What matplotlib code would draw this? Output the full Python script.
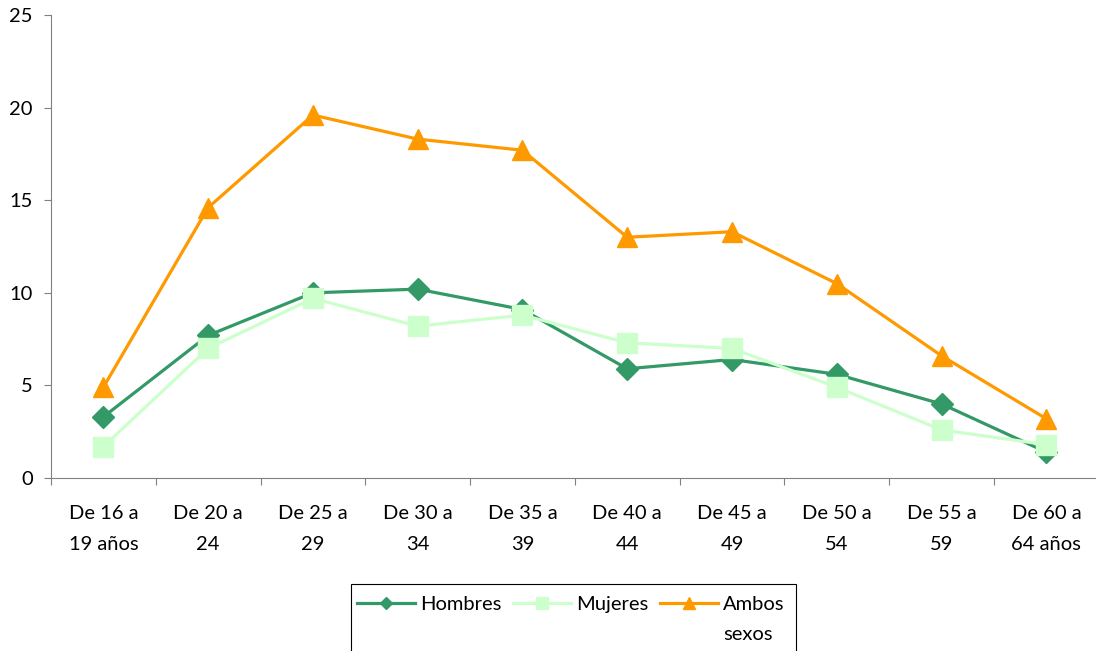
import matplotlib.pyplot as plt
from matplotlib.patches import Rectangle
import numpy as np

# Datos
categorias = ["De 16 a\n19 años", "De 20 a\n24", "De 25 a\n29", "De 30 a\n34", "De 35 a\n39",
              "De 40 a\n44", "De 45 a\n49", "De 50 a\n54", "De 55 a\n59", "De 60 a\n64 años"]
hombres = [3.3, 7.7, 10.0, 10.2, 9.1, 5.9, 6.4, 5.6, 4.0, 1.4]
mujeres = [1.7, 7.0, 9.7, 8.2, 8.8, 7.3, 7.0, 4.9, 2.6, 1.8]
ambos = [4.9, 14.6, 19.6, 18.3, 17.7, 13.0, 13.3, 10.5, 6.6, 3.2]
series_nombres = ["Hombres", "Mujeres", "Ambos sexos"]

plt.rcParams['font.family'] = ['Lato', 'DejaVu Sans']
fs = 14.5

fig = plt.figure(figsize=(10.96, 6.51), dpi=100)
ax = fig.add_axes([0.0465, 0.2657, 0.956, 0.7112])

x = np.arange(len(categorias))
l1, = ax.plot(x, hombres, color='#339966', lw=2.3, marker='D', ms=11)
l2, = ax.plot(x, mujeres, color='#CCFFCC', lw=2.3, marker='s', ms=14)
l3, = ax.plot(x, ambos, color='#FF9900', lw=2.3, marker='^', ms=15)

ax.set_xlim(-0.5, len(categorias) - 0.5)
ax.set_ylim(0, 25)
ax.set_yticks([0, 5, 10, 15, 20, 25])

# ticks x en los limites de categoria
ax.set_xticks(np.arange(len(categorias) + 1) - 0.5)
ax.set_xticklabels([])
ax.set_xticks(x, minor=True)
ax.set_xticklabels(categorias, minor=True, linespacing=1.97)
ax.tick_params(axis='x', which='major', length=5, direction='out', color='#808080')
ax.tick_params(axis='x', which='minor', length=0, pad=19.5, labelsize=fs)
ax.tick_params(axis='y', length=5, direction='out', color='#808080', labelsize=fs, pad=8)

for s in ['top', 'right']:
    ax.spines[s].set_visible(False)
for s in ['left', 'bottom']:
    ax.spines[s].set_color('#808080')

# leyenda: la etiqueta larga se parte en dos lineas como en el original
etiquetas = [series_nombres[0], series_nombres[1], series_nombres[2].split()[0]]
leg = fig.legend([l1, l2, l3], etiquetas, loc='upper left',
                 bbox_to_anchor=(357 / 1096, 1 - 596 / 651), ncol=3,
                 fontsize=fs, frameon=False, borderpad=0, borderaxespad=0, markerscale=0.6,
                 handlelength=2.9, handletextpad=0.25, columnspacing=0.55)
fig.add_artist(Rectangle((351 / 1096, -0.05), (796 - 351) / 1096, 0.05 + (651 - 584) / 651,
                         transform=fig.transFigure, fill=False, edgecolor='black', lw=0.8))

fig.canvas.draw()
bb = leg.get_texts()[2].get_window_extent().transformed(fig.transFigure.inverted())
fig.text(bb.x0, bb.y0 - 30 / 651, series_nombres[2].split()[1], fontsize=fs,
         ha='left', va='bottom')

fig.savefig('out.png', dpi=100)
